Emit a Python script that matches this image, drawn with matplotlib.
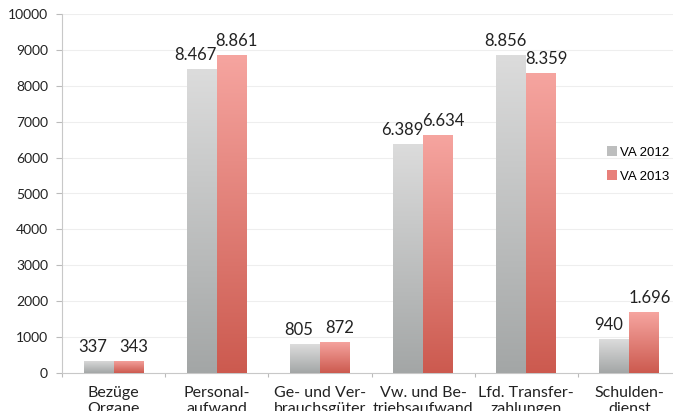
import numpy as np
import matplotlib.pyplot as plt
from matplotlib.colors import LinearSegmentedColormap
from matplotlib.patches import Patch

categories = ['Bezüge\nOrgane', 'Personal-\naufwand', 'Ge- und Ver-\nbrauchsgüter',
              'Vw. und Be-\ntriebsaufwand', 'Lfd. Transfer-\nzahlungen', 'Schulden-\ndienst']
va_2012 = [337, 8467, 805, 6389, 8856, 940]
va_2013 = [343, 8861, 872, 6634, 8359, 1696]
series_names = ['VA 2012', 'VA 2013']

plt.rcParams['font.family'] = ['Lato', 'DejaVu Sans']

gray_cmap = LinearSegmentedColormap.from_list('g', ['#a3a6a6', '#dcdcdc'])
red_cmap = LinearSegmentedColormap.from_list('r', ['#cc5a4f', '#f6a5a0'])


def fmt(v):
    return f'{v:,}'.replace(',', '.')


fig = plt.figure(figsize=(6.73, 4.11), dpi=100)
ax = fig.add_axes([62 / 673, 38 / 411, 619 / 673, (373 - 14) / 411])

x = np.arange(len(categories))
w = 0.29
grad = np.linspace(0, 1, 256).reshape(-1, 1)

for vals, off, lab_off, cmap, name in [(va_2012, -w / 2, -0.06, gray_cmap, series_names[0]),
                                       (va_2013, w / 2, 0.05, red_cmap, series_names[1])]:
    bars = ax.bar(x + off, vals, width=w, color='none', edgecolor='none', label=name, zorder=3)
    for b, v in zip(bars, vals):
        x0, x1 = b.get_x(), b.get_x() + b.get_width()
        im = ax.imshow(grad, cmap=cmap, aspect='auto', origin='lower',
                       extent=[x0, x1, 0, v], zorder=3)
        im.set_clip_path(b)
        ax.text(x0 + w / 2 + lab_off, v + 170, fmt(v), ha='center', va='bottom',
                fontsize=12, color='#222222')

ax.set_xlim(-0.5, len(categories) - 0.5)
ax.set_ylim(0, 10000)
ax.set_yticks(np.arange(0, 10001, 1000))
ax.yaxis.grid(True, color='#eeeeee', linewidth=0.8, zorder=0)
ax.set_axisbelow(True)
ax.set_xticks(np.arange(-0.5, len(categories), 1), minor=False)
ax.set_xticklabels([])
ax.set_xticks(x, minor=True)
ax.set_xticklabels(categories, minor=True, fontsize=11.5, color='#222222', linespacing=1.2)
ax.tick_params(axis='x', which='minor', length=0, pad=9)
ax.tick_params(axis='x', which='major', length=3, color='#bbbbbb', direction='out')
ax.tick_params(axis='y', length=4, color='#bbbbbb', labelsize=10, labelcolor='#222222', pad=6)
for s in ['top', 'right']:
    ax.spines[s].set_visible(False)
ax.spines['left'].set_color('#c8c8c8')
ax.spines['bottom'].set_color('#c8c8c8')

handles = [Patch(facecolor='#bdbebe'), Patch(facecolor='#e8807a')]
fig.legend(handles, series_names, loc='upper left', bbox_to_anchor=(595 / 673, 1 - 134 / 411),
           frameon=False, handlelength=0.8, handleheight=0.8, handletextpad=0.2,
           labelspacing=0.9, prop={'family': 'Liberation Sans', 'size': 9.5})

fig.savefig('out.png', dpi=100)
